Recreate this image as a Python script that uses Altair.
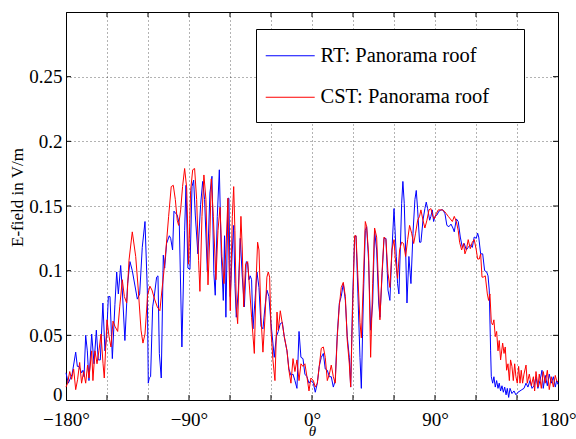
import altair as alt
import pandas as pd

# ---------------- data ----------------
rt_theta = [-180.0, -178.3, -175.5, -172.9, -171.7, -170.5, -168.6, -167.6, -166.8, -165.6, -164.4, -163.2,
            -161.2, -159.5, -157.8, -156.4, -154.9, -153.0, -151.5, -150.3, -149.0, -147.8, -146.1, -144.2,
            -142.9, -141.7, -140.0, -138.8, -136.9, -134.9, -133.2, -131.5, -127.8, -126.1, -124.2, -122.2,
            -120.5, -119.8, -119.1, -118.1, -116.6, -115.2, -113.7, -112.7, -111.7, -110.3, -108.8, -107.8,
            -106.4, -104.4, -103.4, -102.0, -101.0, -99.5, -98.6, -97.1, -95.2, -93.2, -92.2, -90.8, -89.3,
            -87.8, -86.6, -85.4, -83.5, -81.5, -80.0, -78.6, -76.6, -74.7, -73.2, -71.8, -70.8, -69.3, -67.8,
            -66.4, -64.9, -64.0, -63.0, -61.5, -60.8, -59.8, -58.3, -57.3, -56.4, -55.4, -53.9, -52.5, -51.0,
            -49.5, -48.1, -47.1, -46.1, -45.2, -44.2, -43.2, -41.7, -40.3, -38.8, -37.3, -35.9, -34.4, -33.0,
            -31.5, -30.0, -28.6, -27.6, -26.1, -24.7, -23.2, -21.7, -20.3, -18.3, -16.9, -15.4, -13.9, -12.5,
            -11.0, -9.5, -8.1, -6.6, -5.2, -3.7, -2.2, -0.8, 1.0, 2.4, 3.9, 5.3, 6.8, 8.3, 9.7, 11.2, 12.7,
            14.1, 15.6, 17.0, 18.5, 20.0, 21.4, 22.9, 24.4, 25.8, 27.3, 28.3, 29.7, 31.2, 32.2, 33.6, 35.1,
            36.1, 37.5, 39.0, 40.0, 41.4, 42.9, 44.4, 45.8, 47.3, 48.8, 49.7, 51.2, 52.7, 54.1, 55.6, 57.0,
            58.5, 60.0, 61.7, 62.6, 63.6, 64.6, 65.6, 66.5, 67.5, 68.5, 69.5, 70.9, 72.4, 73.9, 75.3, 76.3,
            77.3, 78.7, 79.7, 81.2, 82.6, 83.6, 84.6, 86.1, 87.0, 88.0, 89.0, 90.0, 91.4, 92.9, 94.4, 95.8,
            97.3, 98.7, 100.2, 101.7, 103.1, 104.1, 105.6, 107.0, 108.5, 110.0, 111.4, 112.9, 114.3, 115.8,
            117.3, 118.7, 120.2, 121.2, 122.0, 123.4, 124.9, 126.3, 127.8, 128.8, 129.7, 130.7, 131.2, 132.2,
            133.1, 134.1, 135.1, 136.1, 137.0, 138.0, 139.0, 140.0, 141.0, 142.0, 142.9, 143.9, 144.9, 146.3,
            147.8, 149.2, 150.7, 152.2, 153.6, 155.1, 156.6, 158.0, 159.5, 161.0, 162.4, 163.9, 165.3, 166.8,
            168.3, 169.2, 170.7, 172.2, 173.6, 175.1, 176.6, 178.0, 179.0, 180.0]
rt_value = [0.021, 0.013, 0.020, 0.037, 0.026, 0.026, 0.021, 0.023, 0.018, 0.050, 0.038, 0.015,
            0.051, 0.028, 0.054, 0.031, 0.031, 0.075, 0.038, 0.049, 0.080, 0.080, 0.032, 0.074,
            0.099, 0.082, 0.104, 0.085, 0.046, 0.090, 0.107, 0.100, 0.078, 0.082, 0.118, 0.138,
            0.085, 0.013, 0.017, 0.018, 0.072, 0.082, 0.095, 0.096, 0.036, 0.017, 0.112, 0.102,
            0.121, 0.127, 0.125, 0.116, 0.146, 0.144, 0.143, 0.136, 0.041, 0.131, 0.166, 0.102, 0.101,
            0.165, 0.170, 0.143, 0.113, 0.151, 0.169, 0.155, 0.100, 0.160, 0.173, 0.098, 0.081, 0.142, 0.178,
            0.113, 0.077, 0.127, 0.064, 0.156, 0.156, 0.080, 0.116, 0.135, 0.090, 0.064, 0.085, 0.125, 0.095,
            0.072, 0.107, 0.106, 0.093, 0.096, 0.093, 0.055, 0.077, 0.099, 0.087, 0.057, 0.055, 0.072, 0.085,
            0.080, 0.059, 0.044, 0.033, 0.049, 0.053, 0.059, 0.060, 0.049, 0.038, 0.024, 0.019, 0.020, 0.015,
            0.009, 0.053, 0.033, 0.032, 0.020, 0.018, 0.013, 0.015, 0.013, 0.006, 0.013, 0.026, 0.033, 0.036, 0.024, 0.023, 0.018,
            0.018, 0.010, 0.015, 0.051, 0.075, 0.080, 0.090, 0.077, 0.049, 0.033, 0.010, 0.077, 0.126, 0.127, 0.082, 0.033,
            0.009, 0.075, 0.131, 0.134, 0.108, 0.054, 0.075, 0.131, 0.116, 0.075, 0.064, 0.095, 0.125, 0.125, 0.085, 0.077,
            0.116, 0.148, 0.111, 0.090, 0.082, 0.116, 0.152, 0.169, 0.152, 0.116, 0.075, 0.111, 0.090, 0.129, 0.155, 0.162,
            0.147, 0.122, 0.122, 0.139, 0.148, 0.153, 0.148, 0.139, 0.142, 0.147, 0.138, 0.142, 0.143, 0.146, 0.147, 0.147,
            0.144, 0.135, 0.134, 0.136, 0.133, 0.130, 0.140, 0.138, 0.126, 0.118, 0.121, 0.116, 0.118, 0.120,
            0.118, 0.126, 0.125, 0.129, 0.126, 0.113, 0.113, 0.100, 0.099, 0.096, 0.085, 0.038, 0.018, 0.013,
            0.018, 0.010, 0.015, 0.009, 0.013, 0.007, 0.011, 0.006, 0.010, 0.004, 0.009, 0.002, 0.009, 0.005,
            0.007, 0.004, 0.006, 0.007, 0.008, 0.009, 0.013, 0.010, 0.015, 0.009, 0.011, 0.018, 0.009, 0.015,
            0.023, 0.009, 0.019, 0.011, 0.020, 0.013, 0.018, 0.010, 0.015, 0.012]

cst_theta = [-180.0, -178.8, -177.3, -175.9, -174.4, -172.9, -171.5, -170.0, -168.6, -167.1, -165.6, -164.2,
             -163.2, -161.2, -160.3, -158.8, -157.3, -155.9, -154.4, -152.9, -152.0, -150.0, -148.5, -147.1,
             -145.6, -144.2, -142.2, -140.7, -138.8, -137.3, -135.6, -133.9, -131.5, -129.0, -127.1, -125.1,
             -123.7, -122.2, -120.3, -118.6, -117.1, -115.2, -113.2, -111.3, -109.8, -108.3, -106.9, -104.9,
             -103.0, -101.5, -100.0, -98.6, -97.6, -96.1, -94.7, -93.2, -91.7, -90.3, -88.8, -87.3, -85.9,
             -84.4, -83.0, -82.0, -80.5, -79.1, -77.6, -76.1, -74.7, -73.7, -72.2, -70.3, -68.8, -67.3, -65.9,
             -64.4, -63.0, -61.5, -60.8, -59.8, -58.3, -57.3, -56.4, -55.4, -54.4, -53.4, -52.0, -51.0, -50.0,
             -48.6, -47.1, -45.6, -44.2, -42.2, -40.8, -39.8, -38.8, -37.3, -35.9, -34.4, -33.0, -32.0, -31.0,
             -30.0, -28.6, -27.1, -25.6, -24.7, -23.2, -21.7, -20.3, -18.3, -16.9, -15.4, -13.9, -12.5, -11.0,
             -9.5, -8.1, -6.6, -5.2, -3.7, -2.2, -0.8, 1.0, 2.4, 3.9, 5.3, 6.8, 8.3, 9.7, 11.2, 12.7, 14.1,
             15.6, 17.0, 18.5, 20.0, 21.4, 22.9, 24.4, 25.8, 27.3, 28.3, 29.7, 31.2, 32.2, 33.6, 35.1, 36.1,
             37.5, 39.0, 40.0, 41.4, 42.9, 44.4, 45.8, 47.3, 48.8, 49.7, 51.2, 52.7, 54.1, 55.6, 57.0, 58.5,
             60.0, 60.9, 62.6, 64.1, 65.6, 67.0, 68.5, 70.0, 71.4, 72.9, 74.4, 75.8, 77.3, 78.7, 79.7, 81.2,
             82.6, 84.1, 85.6, 87.0, 88.5, 89.5, 90.9, 92.4, 93.9, 95.3, 96.8, 98.3, 99.7, 101.2, 102.7, 104.1,
             105.6, 107.0, 108.0, 109.5, 110.9, 111.9, 112.9, 114.3, 115.8, 117.3, 118.7, 120.2, 121.2, 122.4,
             123.4, 124.4, 125.3, 126.8, 128.3, 129.2, 130.2, 131.2, 132.2, 133.1, 134.1, 135.1, 136.1, 137.0,
             138.0, 139.5, 140.5, 141.4, 142.4, 143.4, 144.4, 145.3, 146.3, 147.3, 148.3, 149.2, 150.2, 151.2,
             152.2, 153.1, 154.1, 155.1, 156.6, 157.5, 159.0, 160.5, 162.0, 162.9, 163.9, 165.3, 166.3, 167.8,
             169.2, 170.7, 172.2, 173.6, 175.1, 176.6, 178.0, 179.0, 180.0]
cst_value = [0.010, 0.013, 0.022, 0.016, 0.024, 0.008, 0.016, 0.029, 0.013, 0.022, 0.013, 0.027,
             0.017, 0.038, 0.015, 0.038, 0.028, 0.038, 0.051, 0.028, 0.017, 0.062, 0.049, 0.041,
             0.061, 0.057, 0.053, 0.072, 0.093, 0.080, 0.075, 0.108, 0.130, 0.111, 0.085, 0.054,
             0.044, 0.051, 0.081, 0.088, 0.085, 0.078, 0.072, 0.069, 0.085, 0.100, 0.116, 0.142,
             0.165, 0.166, 0.155, 0.139, 0.135, 0.147, 0.165, 0.179, 0.164, 0.105, 0.162, 0.178, 0.179,
             0.155, 0.108, 0.084, 0.142, 0.174, 0.155, 0.089, 0.129, 0.171, 0.142, 0.093, 0.131, 0.149, 0.111,
             0.090, 0.116, 0.156, 0.108, 0.069, 0.142, 0.165, 0.131, 0.072, 0.059, 0.095, 0.142, 0.116, 0.072,
             0.105, 0.107, 0.085, 0.064, 0.036, 0.095, 0.122, 0.116, 0.064, 0.037, 0.064, 0.095, 0.099, 0.095,
             0.054, 0.031, 0.015, 0.068, 0.054, 0.069, 0.059, 0.049, 0.038, 0.023, 0.013, 0.032, 0.022, 0.031,
             0.015, 0.028, 0.026, 0.028, 0.018, 0.007, 0.017, 0.015, 0.010, 0.013, 0.026, 0.040, 0.041, 0.033, 0.015, 0.020, 0.027,
             0.018, 0.013, 0.049, 0.073, 0.087, 0.091, 0.080, 0.046, 0.028, 0.010, 0.069, 0.127, 0.127, 0.095, 0.060, 0.048,
             0.090, 0.138, 0.134, 0.113, 0.033, 0.090, 0.133, 0.126, 0.085, 0.062, 0.098, 0.126, 0.124, 0.098, 0.087, 0.116,
             0.124, 0.110, 0.094, 0.116, 0.122, 0.121, 0.111, 0.124, 0.135, 0.129, 0.121, 0.129, 0.139, 0.142, 0.147, 0.139,
             0.133, 0.139, 0.147, 0.148, 0.142, 0.140, 0.144, 0.147, 0.147, 0.147, 0.146, 0.144, 0.142, 0.140, 0.138, 0.142,
             0.138, 0.131, 0.122, 0.116, 0.121, 0.113, 0.116, 0.124, 0.117, 0.122, 0.124, 0.116, 0.109, 0.109,
             0.113, 0.095, 0.095, 0.096, 0.082, 0.077, 0.082, 0.060, 0.058, 0.062, 0.049, 0.053, 0.038, 0.046,
             0.031, 0.044, 0.036, 0.041, 0.023, 0.028, 0.015, 0.031, 0.026, 0.015, 0.028, 0.018, 0.013, 0.026,
             0.013, 0.023, 0.013, 0.020, 0.027, 0.013, 0.020, 0.011, 0.018, 0.007, 0.022, 0.010, 0.020, 0.009,
             0.022, 0.013, 0.023, 0.008, 0.018, 0.010, 0.019, 0.015, 0.014]

series_names = ["RT: Panorama roof", "CST: Panorama roof"]
series_colors = ["#0000ff", "#ff0000"]
x_ticks = [-180, -150, -120, -90, -60, -30, 0, 30, 60, 90, 120, 150, 180]
y_ticks = [0, 0.05, 0.1, 0.15, 0.2, 0.25]
x_domain = [-180, 180]
y_domain = [0, 0.3]

FONT = "Liberation Serif, DejaVu Serif, Liberation Sans, sans-serif"

df_rt = pd.DataFrame({"theta": rt_theta, "value": rt_value, "series": series_names[0]})
df_cst = pd.DataFrame({"theta": cst_theta, "value": cst_value, "series": series_names[1]})

# inward tick marks on all four sides (MATLAB box style)
xt_df = pd.DataFrame([(x, y) for y in y_domain for x in x_ticks[1:-1]], columns=["theta", "value"])
yt_df = pd.DataFrame([(x, y) for x in x_domain for y in y_ticks[1:]], columns=["theta", "value"])

xscale = alt.Scale(domain=x_domain, nice=False, zero=False)
yscale = alt.Scale(domain=y_domain, nice=False)

x_axis = alt.Axis(
    values=x_ticks,
    labelExpr="datum.value % 90 == 0 ? (datum.value < 0 ? '\u2212' + (-datum.value) : '' + datum.value) + '\u00b0' : ''",
    labelFlush=False, labelOverlap=False, labelPadding=10,
    ticks=False, tickSize=0,
    title="\u03b8", titleFontStyle="italic", titleFontSize=15,
    titleX=246, titleY=35.5, titleBaseline="alphabetic",
)
y_axis = alt.Axis(
    values=y_ticks,
    labelExpr="datum.value == 0 ? '0' : format(datum.value, '.2~f')",
    labelPadding=4, labelOverlap=False, labelFlush=False,
    labelBaseline={"condition": {"test": "datum.value == 0", "value": "alphabetic"}, "value": "middle"},
    ticks=False, tickSize=0,
    title="E-field in V/m", titleFontSize=17,
    titleX=-44, titleY=185, titleBaseline="alphabetic",
)

# legend symbol: a 49 px line; the trailing move-to only widens the frame like the reference box
color = alt.Color(
    "series:N",
    scale=alt.Scale(domain=series_names, range=series_colors),
    legend=alt.Legend(
        title=None, orient="none", legendX=190, legendY=17,
        symbolType="M-1.39,0H2.61M18.35,0", symbolSize=600, symbolStrokeWidth=1,
        labelFont=FONT, labelFontSize=20.5, labelColor="black", labelOffset=24.75,
        labelLimit=400,
        fillColor="white", strokeColor="black", padding=13.75, rowPadding=17.5,
    ),
)

x_enc = alt.X("theta:Q", scale=xscale, axis=x_axis)
y_enc = alt.Y("value:Q", scale=yscale, axis=y_axis)

rt_line = alt.Chart(df_rt).mark_line(strokeWidth=1).encode(x=x_enc, y=y_enc, color=color)
cst_line = alt.Chart(df_cst).mark_line(strokeWidth=1).encode(x=x_enc, y=y_enc, color=color)

xt = alt.Chart(xt_df).mark_tick(orient="vertical", size=10, thickness=1, color="black", clip=True, opacity=1).encode(x=x_enc, y=y_enc)
yt = alt.Chart(yt_df).mark_tick(orient="horizontal", size=10, thickness=1, color="black", clip=True, opacity=1).encode(x=x_enc, y=y_enc)

chart = (
    alt.layer(rt_line, cst_line, xt, yt)
    .properties(
        width=492, height=388,
        autosize=alt.AutoSizeParams(type="none"),
        padding={"left": 66, "top": 12, "right": 18, "bottom": 39},
        background="white",
    )
    .configure_view(stroke="black", strokeWidth=1)
    .configure_axis(
        labelFont=FONT, labelFontSize=19, labelColor="black",
        titleFont=FONT, titleColor="black", titleFontWeight="normal",
        domainColor="black", domainWidth=1,
        grid=True, gridColor="#000000", gridOpacity=0.6, gridDash=[1, 3], gridWidth=1,
    )
)

chart.save("out.html", embed_options={"renderer": "svg", "actions": False})
